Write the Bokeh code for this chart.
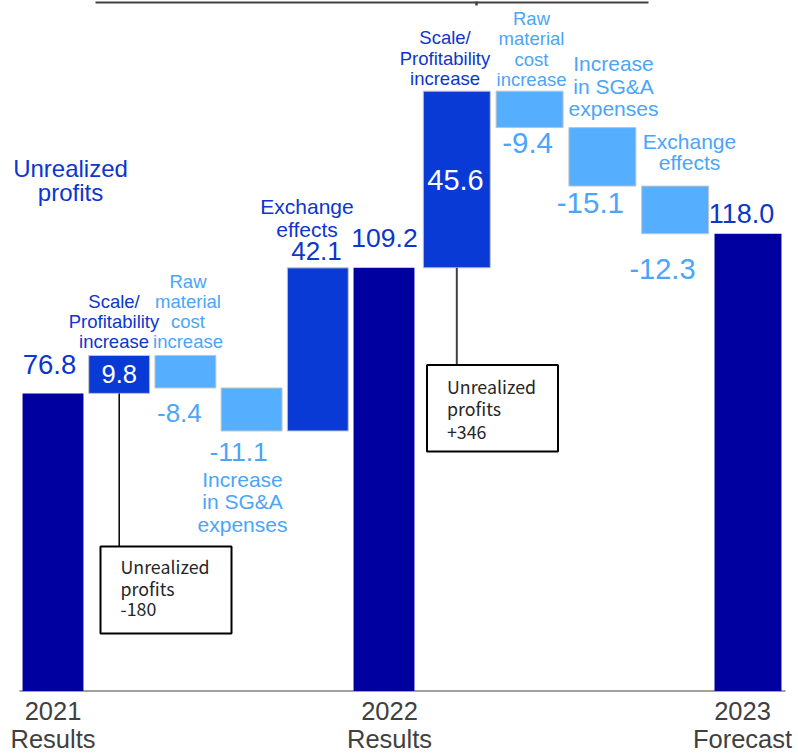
from bokeh.plotting import figure
from bokeh.models import Range1d, ColumnDataSource
from bokeh.embed import file_html
from bokeh.resources import INLINE
from bokeh.core.properties import value

# ---------------- data ----------------
steps = ["2021 Results", "Scale/Profitability increase", "Raw material cost increase",
         "Increase in SG&A expenses", "Exchange effects", "2022 Results",
         "Scale/Profitability increase", "Raw material cost increase",
         "Increase in SG&A expenses", "Exchange effects", "2023 Forecast"]
kinds = ["total", "up", "down", "down", "up", "total", "up", "down", "down", "down", "total"]
values = [76.8, 9.8, -8.4, -11.1, 42.1, 109.2, 45.6, -9.4, -15.1, -12.3, 118.0]
value_labels = ["76.8", "9.8", "-8.4", "-11.1", "42.1", "109.2", "45.6", "-9.4", "-15.1", "-12.3", "118.0"]
step_lines = [None,
              ["Scale/", "Profitability", "increase"],
              ["Raw", "material", "cost", "increase"],
              ["Increase", "in SG&A", "expenses"],
              ["Exchange", "effects"],
              None,
              ["Scale/", "Profitability", "increase"],
              ["Raw", "material", "cost", "increase"],
              ["Increase", "in SG&A", "expenses"],
              ["Exchange", "effects"],
              None]
period_lines = [["2021", "Results"], ["2022", "Results"], ["2023", "Forecast"]]
period_index = [0, 5, 10]
note_title = ["Unrealized", "profits"]
note_boxes = [["Unrealized", "profits", "-180"], ["Unrealized", "profits", " +346"]]
note_bar_index = [1, 6]

# ---------------- layout (pixels of the 798x754 picture) ----------------
PX = 3.875          # px per unit
BASE = 690.5        # picture y of zero
TOP, BOTTOM, LEFT, RIGHT = 0, 754, 0, 798
SHIFT = 0.37        # baseline correction (em) for the svg text renderer

def Y(py):
    return (BASE - py) / PX

def YT(baseline_py, size):
    return Y(baseline_py - SHIFT * size)

x0a, stepa, x0b, stepb = 52.5, 66.2, 383.5, 72.8
xs = [x0a + i * stepa for i in range(6)] + [x0b + j * stepb for j in range(1, 6)]
widths = [0.92 * stepa] * 6 + [0.92 * stepb] * 5

NAVY, BLUE, LIGHT = "#0000A0", "#0A3AD6", "#56AEFF"
TXT_BLUE, TXT_LIGHT, GREY = "#0C36CC", "#4BA5F8", "#404040"
bar_color = {"total": NAVY, "up": BLUE, "down": LIGHT}
txt_color = {"total": TXT_BLUE, "up": TXT_BLUE, "down": TXT_LIGHT}

# running totals
bottoms, tops = [], []
run = 0.0
for k, v in zip(kinds, values):
    if k == "total":
        b, t = 0.0, v
        run = v
    else:
        nxt = run + v
        b, t = min(run, nxt), max(run, nxt)
        run = nxt
    bottoms.append(b)
    tops.append(t)

FONT = value("Liberation Sans")

p = figure(width=RIGHT - LEFT, height=BOTTOM - TOP,
           x_range=Range1d(LEFT, RIGHT), y_range=Range1d(Y(BOTTOM), Y(TOP)),
           x_axis_location=None, y_axis_location=None,
           toolbar_location=None, output_backend="svg", min_border=0)
p.grid.visible = False
p.outline_line_color = None
p.background_fill_color = "white"

# top rule (cut-off title frame)
p.segment(x0=[95], y0=[Y(2)], x1=[648], y1=[Y(2)], line_color=GREY, line_width=2)
p.segment(x0=[476], y0=[Y(1)], x1=[476], y1=[Y(5)], line_color=GREY, line_width=2.5)

# baseline
p.segment(x0=[19], y0=[0], x1=[785], y1=[0], line_color="#A0A0A0", line_width=2)

# bars
src = ColumnDataSource(dict(
    x=xs, w=widths, b=bottoms, t=tops,
    fill=[bar_color[k] for k in kinds],
    line=[None if k == "total" else "#C4C4C4" for k in kinds]))
p.vbar(x="x", width="w", bottom="b", top="t", source=src,
       fill_color="fill", line_color="line", line_width=1)

# value labels: (dx px, anchor, dy px, size, white?)
vl_layout = [(-3.5, "top", -19, 27.5, False),
             (0.0, "top", 28, 25.5, True),
             (-6, "bottom", 34.5, 26, False),
             (-13, "bottom", 30.5, 26.5, False),
             (-1.3, "top", -7.4, 26, False),
             (0.5, "top", -20.4, 26.5, False),
             (-1.3, "top", 99.3, 29, True),
             (-2, "bottom", 26, 29.5, False),
             (-12, "bottom", 27.4, 29.5, False),
             (-12.7, "bottom", 45.7, 29, False),
             (-6.5, "top", -10.3, 27, False)]
for i, (dx, anc, dy, size, white) in enumerate(vl_layout):
    ref = tops[i] if anc == "top" else bottoms[i]
    py = BASE - ref * PX + dy
    p.text(x=[xs[i] + dx], y=[YT(py, size)], text=[value_labels[i]],
           text_align="center", text_baseline="alphabetic",
           text_font=FONT, text_font_size=f"{size}px",
           text_color="white" if white else txt_color[kinds[i]])

# step name labels: index -> (center x, first baseline, pitch, size)
sl_layout = {1: (113.5, 308, 20.1, 18.5),
             2: (187.5, 287.5, 20.2, 18.5),
             3: (242, 486.7, 22.5, 21),
             4: (306.5, 213.3, 23.4, 21),
             6: (444.5, 44.3, 20.5, 18.5),
             7: (531, 25, 20.3, 18.5),
             8: (613, 70.7, 22.7, 21),
             9: (689, 148.3, 21.7, 21)}
for i, (cx, by, pitch, size) in sl_layout.items():
    lines = step_lines[i]
    p.text(x=[cx] * len(lines), y=[YT(by + j * pitch, size) for j in range(len(lines))],
           text=lines, text_align="center", text_baseline="alphabetic",
           text_font=FONT, text_font_size=f"{size}px", text_color=txt_color[kinds[i]])

# "Unrealized profits" note
p.text(x=[70, 70], y=[YT(176.7, 24), YT(200.5, 24)], text=note_title,
       text_align="center", text_baseline="alphabetic",
       text_font=FONT, text_font_size="24px", text_color=TXT_BLUE)

# period labels under the axis
period_x = [52.5, 389, 742]
for k, idx in enumerate(period_index):
    cx = period_x[k]
    p.text(x=[cx, cx], y=[YT(719.5, 25.5), YT(748, 25.5)], text=period_lines[k],
           text_align="center", text_baseline="alphabetic",
           text_font=FONT, text_font_size="25.5px", text_color=GREY)

# callout boxes: (left, top, right, bottom, text x, first baseline, pitch, connector colour, width)
box_layout = [(100, 546, 231, 633, 120, 572, 22, "#000000", 1.5),
              (426.5, 364.5, 557.5, 451, 446.5, 392, 22.5, "#404040", 2)]
for k, (l, t, r, b, tx, by, pitch, cc, cw) in enumerate(box_layout):
    i = note_bar_index[k]
    p.segment(x0=[xs[i]], y0=[bottoms[i]], x1=[xs[i]], y1=[Y(t)], line_color=cc, line_width=cw)
    p.quad(left=[l], right=[r], top=[Y(t)], bottom=[Y(b)],
           fill_color="white", line_color="#000000", line_width=2)
    lines = note_boxes[k]
    p.text(x=[tx] * 3, y=[YT(by + j * pitch, 17.8) for j in range(3)], text=lines,
           text_align="left", text_baseline="alphabetic",
           text_font=value("Noto Sans CJK JP"), text_font_size="17.8px",
           text_color="#262626")

open("out.html", "w").write(file_html(p, INLINE))
